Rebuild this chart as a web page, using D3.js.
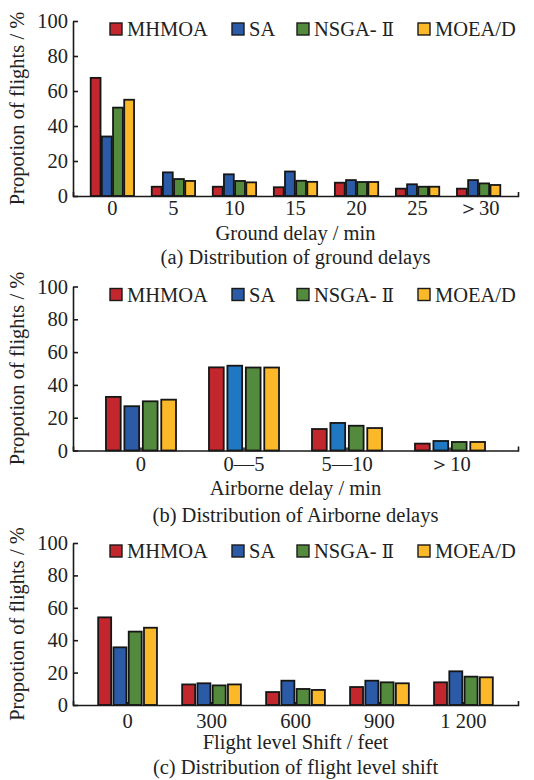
<!DOCTYPE html>
<html>
<head>
<meta charset="utf-8">
<script src="https://cdn.jsdelivr.net/npm/d3@7"></script>
<style>
  body { margin: 0; background: #fff; }
  text { font-family: "Liberation Serif", "Times New Roman", serif; fill: #222; }
</style>
</head>
<body>
<div id="chart"></div>
<script>
// series names + colours
const seriesNames = ["MHMOA", "SA", "NSGA-Ⅱ", "MOEA/D"];
const seriesColors = ["#c1272d", "#2b5ba6", "#548a3e", "#fbb829"];

// (a) ground delay
const groundCats = ["0", "5", "10", "15", "20", "25", "＞30"];
const groundMHMOA = [67.5, 5.3, 5.3, 5, 7.6, 4.2, 4.2];
const groundSA = [34, 13.5, 12.4, 14, 9.1, 6.7, 9.1];
const groundNSGA = [50.5, 9.7, 8.6, 8.7, 8, 5.3, 7.2];
const groundMOEAD = [55, 8.6, 7.8, 8.1, 8, 5.3, 6.3];

// (b) airborne delay
const airCats = ["0", "0—5", "5—10", "＞10"];
const airMHMOA = [32.7, 50.7, 13.1, 4.2];
const airSA = [27, 51.7, 16.8, 5.8];
const airNSGA = [30, 50.6, 15.1, 5.2];
const airMOEAD = [31, 50.6, 13.7, 5.2];
const airSAColors = ["#2b5ba6", "#1f78c1", "#1f78c1", "#1f78c1"]; // SA is lighter after first group

// (c) flight level shift
const levelCats = ["0", "300", "600", "900", "1 200"];
const levelMHMOA = [54.1, 12.7, 8, 11.1, 14];
const levelSA = [35.6, 13.4, 15, 15, 20.8];
const levelNSGA = [45.3, 12.1, 9.9, 14, 17.5];
const levelMOEAD = [47.7, 12.7, 9.3, 13.4, 17.1];

const yTicks = [0, 20, 40, 60, 80, 100];

const W = 534, H = 780;
const fs = "20.5px";
const svg = d3.select("#chart").append("svg").attr("width", W).attr("height", H);

let drawPanel = (p) => {
  let g = svg.append("g");
  let x0 = d3.scaleBand().domain(p.cats).range([73, 518]).padding(p.pad);
  let x1 = d3.scaleBand().domain(d3.range(4)).range([0, x0.bandwidth()]).paddingInner(p.inner);
  let y = d3.scaleLinear().domain([0, 100]).range([p.y0, p.y100]);

  let rows = p.cats.map((c, i) => ({ cat: c, i: i, vals: p.series.map(s => s[i]) }));

  let grp = g.selectAll("g.grp").data(rows).enter().append("g")
    .attr("transform", d => `translate(${x0(d.cat)},0)`);
  grp.selectAll("rect")
    .data(d => d.vals.map((v, k) => ({ v: v, k: k, i: d.i })))
    .enter().append("rect")
    .attr("x", d => x1(d.k))
    .attr("width", x1.bandwidth())
    .attr("y", d => y(d.v))
    .attr("height", d => y(0) - y(d.v))
    .attr("fill", d => (d.k == 1 && p.saColors) ? p.saColors[d.i] : seriesColors[d.k])
    .attr("stroke", "#161616")
    .attr("stroke-width", 1.8);

  // axes
  let yAxis = g.append("g").attr("transform", "translate(73,0)")
    .call(d3.axisLeft(y).tickValues(yTicks).tickSize(-5).tickSizeOuter(0).tickPadding(5));
  let xAxis = g.append("g").attr("transform", `translate(0,${p.y0})`)
    .call(d3.axisBottom(x0).tickSize(-3).tickSizeOuter(-4).tickPadding(p.tickPad));
  [xAxis, yAxis].forEach(a => {
    a.selectAll("path, line").attr("stroke", "#1a1a1a").attr("stroke-width", 1.6);
    a.selectAll("text").style("font-size", fs).style("font-family", "Liberation Serif").attr("fill", "#222");
  });

  // axis titles
  g.append("text")
    .attr("transform", `translate(17,${(p.y0 + p.y100) / 2}) rotate(-90)`)
    .attr("text-anchor", "middle").attr("dominant-baseline", "central")
    .style("font-size", fs)
    .text("Propotion of flights / %");
  g.append("text")
    .attr("x", 295.5).attr("y", p.y0 + 37)
    .attr("text-anchor", "middle").attr("dominant-baseline", "central")
    .style("font-size", fs)
    .text(p.xlabel);
  g.append("text")
    .attr("x", 295.5).attr("y", p.y0 + p.capOff)
    .attr("text-anchor", "middle").attr("dominant-baseline", "central")
    .style("font-size", fs)
    .text(p.caption);

  // legend
  let lx = [110, 232, 297, 418];
  let leg = g.selectAll("g.leg").data(seriesNames).enter().append("g")
    .attr("transform", (d, i) => `translate(${lx[i]},${p.y100 + 8})`);
  leg.append("rect")
    .attr("x", 0).attr("y", -6).attr("width", 12).attr("height", 12)
    .attr("fill", (d, i) => seriesColors[i])
    .attr("stroke", "#1a1a1a").attr("stroke-width", 1.4);
  let lt = leg.append("text")
    .attr("x", 17).attr("y", 0)
    .attr("dominant-baseline", "central")
    .style("font-size", fs);
  lt.each(function(d) {
    let t = d3.select(this);
    if (d.indexOf("Ⅱ") >= 0) {
      t.append("tspan").text(d.replace("Ⅱ", ""));
      t.append("tspan").attr("dx", 5).style("font-family", "DejaVu Serif").style("font-size", "18px").text("Ⅱ");
    } else {
      t.text(d);
    }
  });
};

drawPanel({
  cats: groundCats, series: [groundMHMOA, groundSA, groundNSGA, groundMOEAD],
  y0: 196, y100: 21, pad: 0.29, inner: 0.12, tickPad: 4, capOff: 61,
  xlabel: "Ground delay / min", caption: "(a) Distribution of ground delays"
});
drawPanel({
  cats: airCats, series: [airMHMOA, airSA, airNSGA, airMOEAD], saColors: airSAColors,
  y0: 450.5, y100: 286.5, pad: 0.32, inner: 0.2, tickPad: 6, capOff: 64,
  xlabel: "Airborne delay / min", caption: "(b) Distribution of Airborne delays"
});
drawPanel({
  cats: levelCats, series: [levelMHMOA, levelSA, levelNSGA, levelMOEAD],
  y0: 705, y100: 543, pad: 0.3, inner: 0.15, tickPad: 8, capOff: 62,
  xlabel: "Flight level Shift / feet", caption: "(c) Distribution of flight level shift"
});
</script>
</body>
</html>
